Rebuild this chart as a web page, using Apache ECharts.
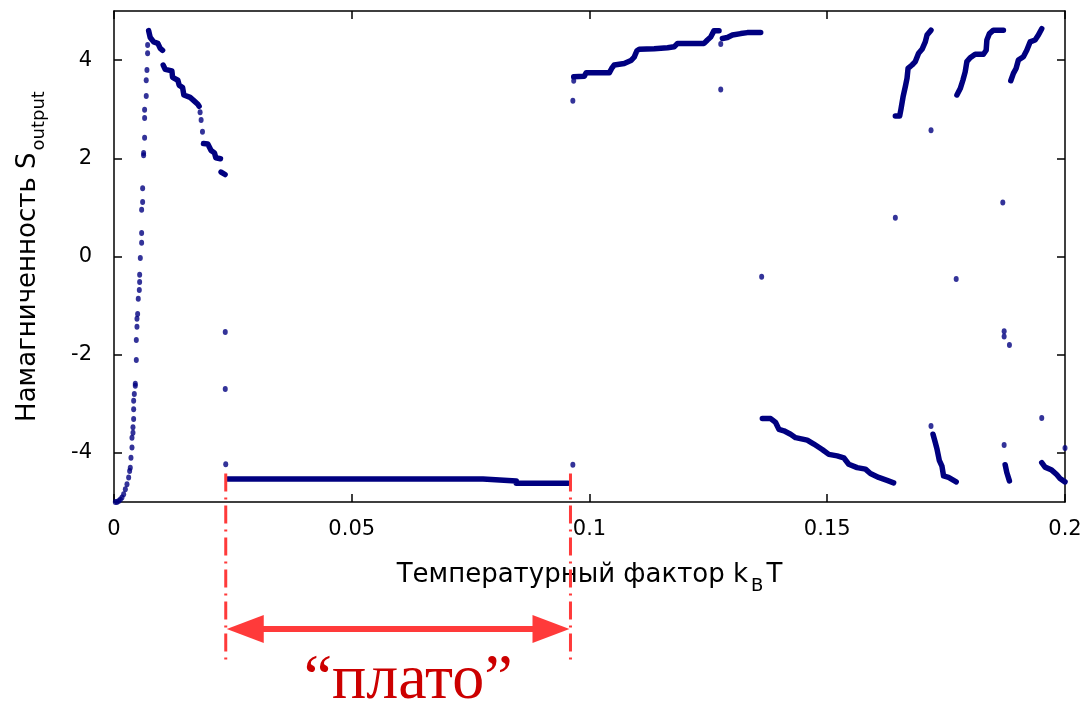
<!DOCTYPE html>
<html>
<head>
<meta charset="utf-8">
<script src="https://cdn.jsdelivr.net/npm/echarts@6/dist/echarts.min.js"></script>
<style>
  html, body { margin: 0; padding: 0; background: #fff; }
  #chart { width: 1089px; height: 704px; }
</style>
</head>
<body>
<div id="chart"></div>
<script>
// Magnetisation S_output versus temperature factor k_B T

const xTicks = [0, 0.05, 0.1, 0.15, 0.2];
const yTicks = [-4, -2, 0, 2, 4];

// Isolated points
const risingBranch = [
  [0.00028,-5.00],[0.00063,-5.00],[0.00098,-4.98],[0.00133,-4.95],[0.00168,-4.91],[0.00203,-4.84],[0.00238,-4.74],
  [0.00273,-4.64],[0.00308,-4.50],[0.00329,-4.37],[0.00343,-4.30],[0.00357,-4.10],[0.00378,-3.89],[0.00378,-3.69],
  [0.00399,-3.59],[0.00399,-3.48],[0.00413,-3.31],[0.00413,-3.11],[0.00413,-2.94],[0.00427,-2.80],[0.00448,-2.63],
  [0.00448,-2.59],[0.00469,-2.11],[0.00469,-1.70],[0.00483,-1.43],[0.00483,-1.27],[0.00497,-1.17],[0.0051,-0.86],
  [0.00532,-0.68],[0.00539,-0.52],[0.00539,-0.37],[0.00553,-0.03],[0.00581,0.28],[0.00581,0.48],[0.00581,0.95],
  [0.00602,1.11],[0.00602,1.39],[0.00623,2.06],[0.00623,2.11],[0.00644,2.42],[0.00644,2.82],[0.00644,2.99],
  [0.00678,3.27],[0.00678,3.59],[0.00693,3.80],[0.00707,4.14],[0.00707,4.31]
];
const strayPoints = [
  [0.01811,2.94],[0.01832,2.78],[0.01861,2.54],
  [0.0234,-1.54],[0.0234,-2.70],[0.0235,-4.23],
  [0.0965,-4.24],[0.0965,3.17],[0.09668,3.58],
  [0.1276,4.33],[0.1276,3.40],[0.1362,-0.41],
  [0.16432,0.79],[0.17182,2.57],[0.17182,-3.45],[0.17712,-0.46],
  [0.18692,1.10],[0.1872,-1.52],[0.1872,-1.63],[0.18831,-1.80],[0.1872,-3.84],
  [0.19511,-3.29],[0.2,-3.90]
];

// Dense runs of overlapping points
const peakRunA = [[0.00728,4.60],[0.00762,4.46],[0.00833,4.37],[0.00923,4.34],[0.00972,4.24],[0.01022,4.20]];
const peakRunB = [[0.01035,3.90],[0.01077,3.81],[0.01217,3.78],[0.01232,3.65],[0.01343,3.59],[0.0137,3.49],
  [0.01442,3.44],[0.01469,3.29],[0.01601,3.24],[0.01673,3.18],[0.01763,3.10],[0.0179,3.06]];
const peakRunC = [[0.01882,2.30],[0.01973,2.29],[0.02042,2.16],[0.02113,2.11],[0.02141,2.01],[0.02239,1.99]];
const peakRunD = [[0.02252,1.72],[0.02336,1.67]];
const plateauRun = [[0.02392,-4.53],[0.0776,-4.53],[0.0776,-4.57],[0.0846,-4.57],[0.0846,-4.62],[0.0955,-4.62]];
const upperRunA = [[0.09668,3.66],[0.09891,3.67],[0.09927,3.74],[0.10416,3.74],[0.10466,3.83],[0.10521,3.90],
  [0.1073,3.93],[0.10871,3.99],[0.1094,4.06],[0.10997,4.19],[0.11045,4.22],[0.1136,4.23],[0.11641,4.25],
  [0.1178,4.27],[0.11851,4.34],[0.12409,4.34],[0.1248,4.41],[0.12549,4.47],[0.12619,4.60],[0.12724,4.60]];
const upperRunB = [[0.12795,4.44],[0.129,4.46],[0.13005,4.51],[0.1318,4.54],[0.1332,4.56],[0.136,4.56]];
const lowerRun = [[0.13635,-3.30],[0.1381,-3.30],[0.13914,-3.38],[0.13984,-3.52],[0.14088,-3.55],[0.14229,-3.62],
  [0.14334,-3.69],[0.14579,-3.74],[0.14718,-3.82],[0.14894,-3.93],[0.15033,-4.03],[0.15209,-4.06],[0.15347,-4.10],
  [0.15452,-4.23],[0.15628,-4.30],[0.15803,-4.33],[0.15908,-4.42],[0.16082,-4.50],[0.16258,-4.56],[0.16396,-4.61]];
const riseRunA = [[0.16432,2.86],[0.16523,2.86],[0.16552,3.01],[0.16594,3.25],[0.16642,3.46],[0.16678,3.63],
  [0.16699,3.83],[0.16783,3.90],[0.16852,3.97],[0.16921,4.14],[0.16993,4.22],[0.17062,4.37],[0.17098,4.51],[0.17182,4.61]];
const fallRunA = [[0.17224,-3.62],[0.17272,-3.79],[0.17308,-3.92],[0.17356,-4.15],[0.17412,-4.27],[0.17446,-4.47],
  [0.17551,-4.50],[0.17712,-4.59]];
const riseRunB = [[0.17727,3.29],[0.17797,3.42],[0.17853,3.59],[0.17901,3.76],[0.17937,3.97],[0.18006,4.05],
  [0.18111,4.12],[0.18285,4.12],[0.18342,4.20],[0.18357,4.41],[0.18411,4.54],[0.18495,4.61],[0.18705,4.61]];
const fallRunB = [[0.18741,-4.24],[0.18776,-4.40],[0.18831,-4.57]];
const riseRunC = [[0.1886,3.58],[0.18915,3.73],[0.18971,3.83],[0.1902,4.00],[0.19125,4.07],[0.19196,4.20],
  [0.19266,4.37],[0.19371,4.41],[0.1944,4.51],[0.19511,4.64]];
const fallRunC = [[0.19511,-4.20],[0.1958,-4.29],[0.1972,-4.35],[0.19825,-4.44],[0.19895,-4.52],[0.2,-4.59]];

const denseRuns = [peakRunA, peakRunB, peakRunC, peakRunD, plateauRun, upperRunA, upperRunB, lowerRun,
  riseRunA, fallRunA, riseRunB, fallRunB, riseRunC, fallRunC];

// Plateau bounds marked below the axis
const plateauStart = 0.0235;
const plateauEnd = 0.0960;
const plateauMarkTop = -4.42;
const plateauLabel = '“плато”';

const NAVY = '#000080';
const RED = '#ff3a3a';
const FONT = 'DejaVu Sans';

const chart = echarts.init(document.getElementById('chart'), null, { renderer: 'canvas' });

const axisLineStyle = { color: '#000', width: 1.5 };
const tickStyle = { show: true, inside: true, length: 8, lineStyle: { color: '#000', width: 1.5 } };

const option = {
  animation: false,
  backgroundColor: '#fff',
  grid: { left: 112, top: 11, right: 24, bottom: 202, containLabel: false },
  xAxis: [
    {
      type: 'value', min: 0, max: 0.2, interval: 0.05, position: 'bottom',
      axisLine: { show: true, onZero: false, lineStyle: axisLineStyle },
      axisTick: tickStyle,
      splitLine: { show: false },
      axisLabel: {
        fontSize: 21, color: '#000', fontFamily: FONT, margin: 17,
        formatter: v => String(v)
      },
      name: '{a|Температурный фактор k}{b|B}{a|T}',
      nameLocation: 'middle',
      nameGap: 53,
      nameTextStyle: {
        rich: {
          a: { fontSize: 26, fontFamily: FONT, color: '#000', lineHeight: 40 },
          b: { fontSize: 18, fontFamily: FONT, color: '#000', verticalAlign: 'top', padding: [22, 3, 0, 3], lineHeight: 18 }
        }
      }
    },
    {
      type: 'value', min: 0, max: 0.2, interval: 0.05, position: 'top',
      axisLine: { show: true, onZero: false, lineStyle: axisLineStyle },
      axisTick: tickStyle,
      axisLabel: { show: false },
      splitLine: { show: false }
    }
  ],
  yAxis: [
    {
      type: 'value', min: -5, max: 5, position: 'left',
      axisLine: { show: true, onZero: false, lineStyle: axisLineStyle },
      axisTick: Object.assign({ customValues: yTicks }, tickStyle),
      splitLine: { show: false },
      axisLabel: { fontSize: 21, color: '#000', fontFamily: FONT, margin: 22, customValues: yTicks },
      name: '{a|Намагниченность S}{b|output}',
      nameLocation: 'middle',
      nameRotate: 90,
      nameGap: 66,
      nameTextStyle: {
        rich: {
          a: { fontSize: 26, fontFamily: FONT, color: '#000', lineHeight: 40 },
          b: { fontSize: 18, fontFamily: FONT, color: '#000', verticalAlign: 'top', padding: [22, 0, 0, 2], lineHeight: 18 }
        }
      }
    },
    {
      type: 'value', min: -5, max: 5, position: 'right',
      axisLine: { show: true, onZero: false, lineStyle: axisLineStyle },
      axisTick: Object.assign({ customValues: yTicks }, tickStyle),
      axisLabel: { show: false },
      splitLine: { show: false }
    }
  ],
  series: [
    ...denseRuns.map(run => ({
      type: 'line',
      data: run,
      symbol: 'none',
      lineStyle: { color: NAVY, width: 5.5, cap: 'round', join: 'round' },
      z: 3
    })),
    {
      type: 'scatter',
      data: risingBranch.concat(strayPoints),
      symbol: 'circle',
      symbolSize: [5, 6],
      itemStyle: { color: NAVY },
      z: 4
    }
  ]
};

chart.setOption(option);

// Plateau bracket: dash-dot verticals, double arrow and caption
const xL = chart.convertToPixel({ xAxisIndex: 0 }, plateauStart);
const xR = chart.convertToPixel({ xAxisIndex: 0 }, plateauEnd);
const yTop = chart.convertToPixel({ yAxisIndex: 0 }, plateauMarkTop);
const yBottom = 665;
const yArrow = 629;
const headLen = 38, headHalf = 14;

chart.setOption({
  graphic: [
    { type: 'line', shape: { x1: xL, y1: yTop, x2: xL, y2: yBottom },
      style: { stroke: RED, lineWidth: 3, lineDash: [18, 6, 2, 6] }, z: 10 },
    { type: 'line', shape: { x1: xR, y1: yTop, x2: xR, y2: yBottom },
      style: { stroke: RED, lineWidth: 3, lineDash: [18, 6, 2, 6] }, z: 10 },
    { type: 'line', shape: { x1: xL + headLen - 2, y1: yArrow, x2: xR - headLen + 2, y2: yArrow },
      style: { stroke: RED, lineWidth: 6 }, z: 10 },
    { type: 'polygon', shape: { points: [[xL + 1, yArrow], [xL + headLen, yArrow - headHalf], [xL + headLen, yArrow + headHalf]] },
      style: { fill: RED }, z: 10 },
    { type: 'polygon', shape: { points: [[xR - 1, yArrow], [xR - headLen, yArrow - headHalf], [xR - headLen, yArrow + headHalf]] },
      style: { fill: RED }, z: 10 },
    { type: 'text', x: (xL + xR) / 2 + 10, y: 681,
      style: { text: plateauLabel, fontSize: 64, fontFamily: 'Liberation Serif', fill: '#cc0000',
               align: 'center', verticalAlign: 'middle' }, z: 10 }
  ]
});
</script>
</body>
</html>
